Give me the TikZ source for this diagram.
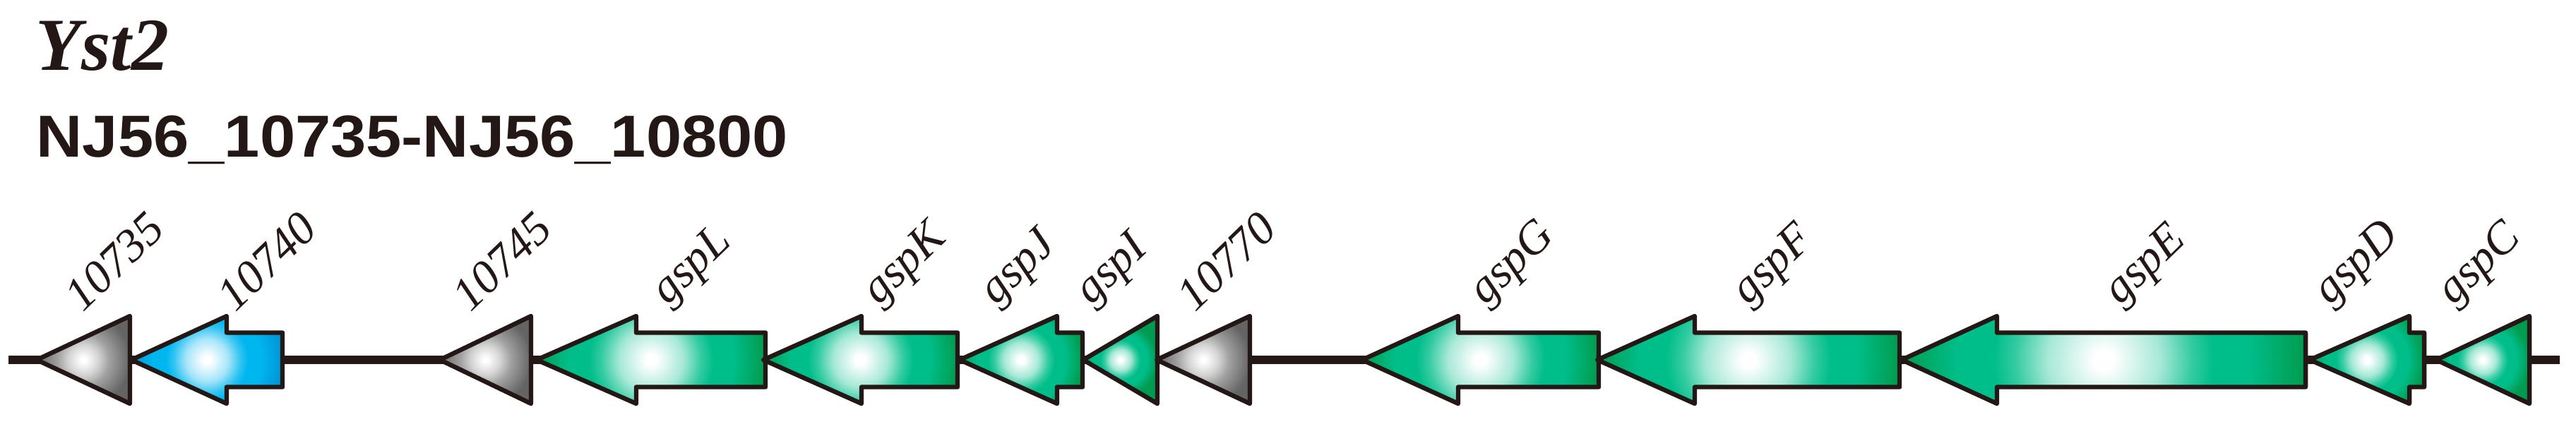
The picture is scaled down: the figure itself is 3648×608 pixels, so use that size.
\documentclass[tikz,border=0pt]{standalone}
\usepackage{graphicx}
\usepackage{fontspec}
\setmainfont{Liberation Serif}
\setsansfont{Liberation Sans}
\definecolor{ink}{HTML}{231815}
\definecolor{gmid}{RGB}{0,190,138}
\definecolor{gdark}{RGB}{0,155,78}
\definecolor{gymid}{RGB}{160,160,160}
\definecolor{gydark}{RGB}{100,100,100}
\definecolor{bmid}{RGB}{0,182,238}
\definecolor{bdark}{RGB}{0,148,214}
% 12.5bp corresponds to half the gene length
\pgfdeclareradialshading{gglow}{\pgfpoint{0bp}{0bp}}{color(0bp)=(white); color(0.6bp)=(white); color(3.5bp)=(gmid!35!white); color(5.5bp)=(gmid!80!white); color(6.8bp)=(gmid); color(9bp)=(gmid); color(12.5bp)=(gdark); color(80bp)=(gdark)}
\pgfdeclareradialshading{bglow}{\pgfpoint{0bp}{0bp}}{color(0bp)=(white); color(0.6bp)=(white); color(3.5bp)=(bmid!35!white); color(5.5bp)=(bmid!80!white); color(6.8bp)=(bmid); color(9bp)=(bmid); color(12.5bp)=(bdark); color(80bp)=(bdark)}
\pgfdeclareradialshading{yglow}{\pgfpoint{0bp}{0bp}}{color(0bp)=(white); color(0.6bp)=(white); color(4bp)=(gymid!45!white); color(7bp)=(gymid); color(12.5bp)=(gydark); color(80bp)=(gydark)}
% arrow gene: tip x, head-back x, back x, shading
\newcommand{\genearrow}[4]{%
  \begin{scope}
    \clip (#1,510) -- (#2,448) -- (#2,471.5) -- (#3,471.5) -- (#3,548.5) -- (#2,548.5) -- (#2,572) -- cycle;
    \pgfmathsetmacro\gcx{(#1+#3)/2}%
    \pgfmathsetmacro\gww{#3-#1}%
    \shade[shading=#4] (\gcx-\gww,510-\gww) rectangle (\gcx+\gww,510+\gww);
  \end{scope}
  \draw[outline] (#1,510) -- (#2,448) -- (#2,471.5) -- (#3,471.5) -- (#3,548.5) -- (#2,548.5) -- (#2,572) -- cycle;
}
% triangle gene: tip x, back x, shading
\newcommand{\genetri}[3]{%
  \begin{scope}
    \clip (#1,510) -- (#2,448) -- (#2,572) -- cycle;
    \pgfmathsetmacro\gcx{(#1+#2)/2}%
    \pgfmathsetmacro\gww{#2-#1}%
    \shade[shading=#3] (\gcx-\gww,510-\gww) rectangle (\gcx+\gww,510+\gww);
  \end{scope}
  \draw[outline] (#1,510) -- (#2,448) -- (#2,572) -- cycle;
}
\begin{document}
\begin{tikzpicture}[x=0.25pt,y=-0.25pt,
  outline/.style={draw=ink, line width=1.6pt, line join=round},
  backbone/.style={draw=ink, line width=3pt},
  lab/.style={rotate=44, anchor=south west, inner sep=0pt, text=ink,
    font=\fontsize{16.5pt}{16.5pt}\selectfont\itshape}]
\useasboundingbox (0,0) rectangle (3648,608);

% titles
\node[anchor=base west, inner sep=0pt, text=ink,
  font=\fontsize{26.5pt}{26.5pt}\selectfont\bfseries\itshape] (title) at (50,100) {Yst2};
\node[anchor=base west, inner sep=0pt, text=ink,
  font=\fontsize{21pt}{21pt}\selectfont\sffamily\bfseries] (sub) at (51,223)
  {\scalebox{1.075}[1]{NJ56\_10735-NJ56\_10800}};

% backbone
\coordinate (bbL) at (12,510);
\coordinate (bbR) at (3625,510);
\draw[backbone] (bbL) -- (bbR);

% genes
\genetri{52}{184}{yglow}
\genearrow{186}{321}{400}{bglow}
\genetri{623}{752}{yglow}
\genearrow{760}{901}{1084}{gglow}
\genearrow{1081}{1220}{1356}{gglow}
\genearrow{1359}{1497}{1533}{gglow}
\genetri{1534}{1639}{gglow}
\genetri{1638}{1770}{yglow}
\genearrow{1929}{2065}{2264}{gglow}
\genearrow{2262}{2400}{2690}{gglow}
\genearrow{2693}{2828}{3265}{gglow}
\genearrow{3271}{3412}{3433}{gglow}
\genetri{3450}{3582}{gglow}

% labels
\node[lab] (l10735) at (118,445) {10735};
\node[lab] (l10740) at (334,445) {10740};
\node[lab] (l10745) at (667,445) {10745};
\node[lab] (lgspL) at (955,445) {gspL};
\node[lab] (lgspK) at (1254,445) {gspK};
\node[lab] (lgspJ) at (1420,445) {gspJ};
\node[lab] (lgspI) at (1555,445) {gspI};
\node[lab] (l10770) at (1693,445) {10770};
\node[lab] (lgspG) at (2113,445) {gspG};
\node[lab] (lgspF) at (2485,445) {gspF};
\node[lab] (lgspE) at (3012,445) {gspE};
\node[lab] (lgspD) at (3309,445) {gspD};
\node[lab] (lgspC) at (3484,445) {gspC};
\end{tikzpicture}
\end{document}
